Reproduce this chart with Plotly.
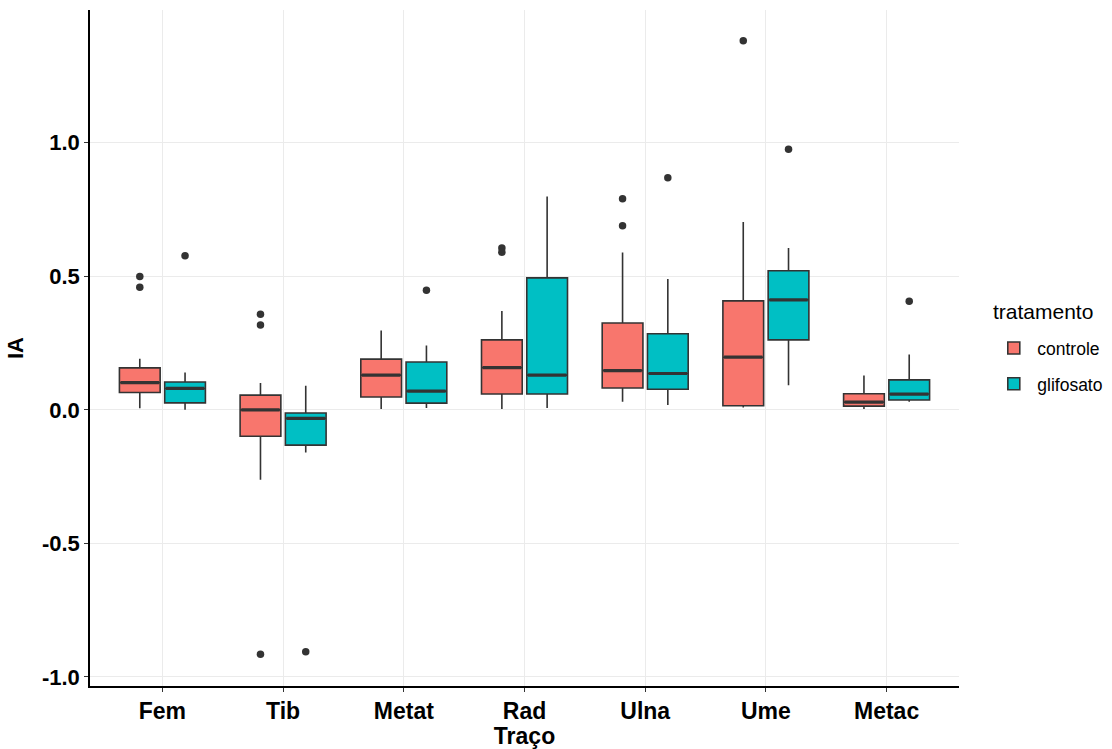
import plotly.graph_objects as go

cats = ["Fem", "Tib", "Metat", "Rad", "Ulna", "Ume", "Metac"]

# controle
c_lower = [0.006, -0.262, 0.003, 0.003, 0.030, 0.009, 0.003]
c_q1 = [0.065, -0.099, 0.048, 0.059, 0.082, 0.015, 0.014]
c_med = [0.102, 0.000, 0.130, 0.158, 0.147, 0.197, 0.029]
c_q3 = [0.157, 0.055, 0.190, 0.262, 0.325, 0.408, 0.060]
c_upper = [0.191, 0.100, 0.297, 0.370, 0.589, 0.703, 0.129]
c_out_cat = ["Fem", "Fem", "Tib", "Tib", "Tib", "Rad", "Rad", "Ulna", "Ulna", "Ume"]
c_out_val = [0.499, 0.459, 0.358, 0.318, -0.915, 0.606, 0.590, 0.790, 0.689, 1.382]

# glifosato
g_lower = [0.000, -0.160, 0.007, 0.007, 0.018, 0.092, 0.030]
g_q1 = [0.026, -0.132, 0.025, 0.059, 0.077, 0.262, 0.037]
g_med = [0.080, -0.032, 0.070, 0.130, 0.136, 0.412, 0.059]
g_q3 = [0.104, -0.012, 0.179, 0.494, 0.285, 0.521, 0.112]
g_upper = [0.140, 0.090, 0.241, 0.799, 0.490, 0.606, 0.207]
g_out_cat = ["Fem", "Tib", "Metat", "Ulna", "Ume", "Metac"]
g_out_val = [0.577, -0.906, 0.448, 0.869, 0.976, 0.407]

y_ticks = [-1.0, -0.5, 0.0, 0.5, 1.0]
y_tick_text = ["-1.0", "-0.5", "0.0", "0.5", "1.0"]

COL_C = "#F8766D"
COL_G = "#00BFC4"
LINE = "#333333"
DODGE = 0.1875
BOXW = 0.3375
FONT = "Liberation Sans, Arial, sans-serif"

idx = {c: i for i, c in enumerate(cats)}

fig = go.Figure()

groups = [
    ("controle", COL_C, -DODGE, c_lower, c_q1, c_med, c_q3, c_upper, c_out_cat, c_out_val),
    ("glifosato", COL_G, DODGE, g_lower, g_q1, g_med, g_q3, g_upper, g_out_cat, g_out_val),
]

for name, col, off, lo, q1, med, q3, up, ocat, oval in groups:
    xs = [i + off for i in range(len(cats))]
    fig.add_trace(go.Box(
        x=xs, lowerfence=lo, q1=q1, median=med, q3=q3, upperfence=up,
        name=name, legendgroup=name, fillcolor=col, line=dict(color=LINE, width=1.6),
        width=BOXW, whiskerwidth=0, boxpoints=False, hoverinfo="skip",
        showlegend=True,
    ))
    # thicker median lines
    mx, my = [], []
    for x, m in zip(xs, med):
        mx += [x - BOXW / 2 + 0.01, x + BOXW / 2 - 0.01, None]
        my += [m, m, None]
    fig.add_trace(go.Scatter(x=mx, y=my, mode="lines", legendgroup=name,
                             line=dict(color=LINE, width=3.2),
                             showlegend=False, hoverinfo="skip"))
    # outliers
    fig.add_trace(go.Scatter(
        x=[idx[c] + off for c in ocat], y=oval, mode="markers", legendgroup=name,
        marker=dict(color=LINE, size=7.5, line=dict(width=0)),
        showlegend=False, hoverinfo="skip"))

fig.add_annotation(
    text="tratamento", xref="paper", yref="paper",
    x=1.037, xanchor="left", y=1 - (311.7 - 10) / 676, yanchor="middle",
    showarrow=False, font=dict(size=21, family=FONT, color="black"),
)

fig.update_layout(
    width=1112, height=749,
    margin=dict(l=89.5, r=152.5, t=10, b=63, autoexpand=False),
    plot_bgcolor="white", paper_bgcolor="white",
    boxmode="overlay",
    font=dict(family=FONT, color="black"),
    legend=dict(
        font=dict(size=17.5, family=FONT, color="black"),
        x=1.036, xanchor="left", y=0.5265, yanchor="top",
        bgcolor="rgba(0,0,0,0)", tracegroupgap=10, itemwidth=37,
    ),
    xaxis=dict(
        range=[-0.6, 6.6],
        tickmode="array", tickvals=list(range(len(cats))), ticktext=cats,
        showgrid=True, gridcolor="#EBEBEB", gridwidth=1,
        zeroline=False,
        showline=True, linecolor="black", linewidth=1.5,
        ticks="outside", ticklen=4, tickcolor="#333333",
        tickfont=dict(size=23, family=FONT, color="black", weight="bold"),
        title=dict(text="Traço", font=dict(size=23, family=FONT, color="black", weight="bold"),
                   standoff=0),
    ),
    yaxis=dict(
        range=[-1.034, 1.497],
        tickmode="array", tickvals=y_ticks, ticktext=y_tick_text,
        showgrid=True, gridcolor="#EBEBEB", gridwidth=1,
        zeroline=False,
        showline=True, linecolor="black", linewidth=1.5,
        ticks="outside", ticklen=4, tickcolor="#333333",
        tickfont=dict(size=22, family=FONT, color="black", weight="bold"),
        title=dict(text="IA", font=dict(size=22, family=FONT, color="black", weight="bold"),
                   standoff=12),
    ),
)

fig.write_html("out.html")
